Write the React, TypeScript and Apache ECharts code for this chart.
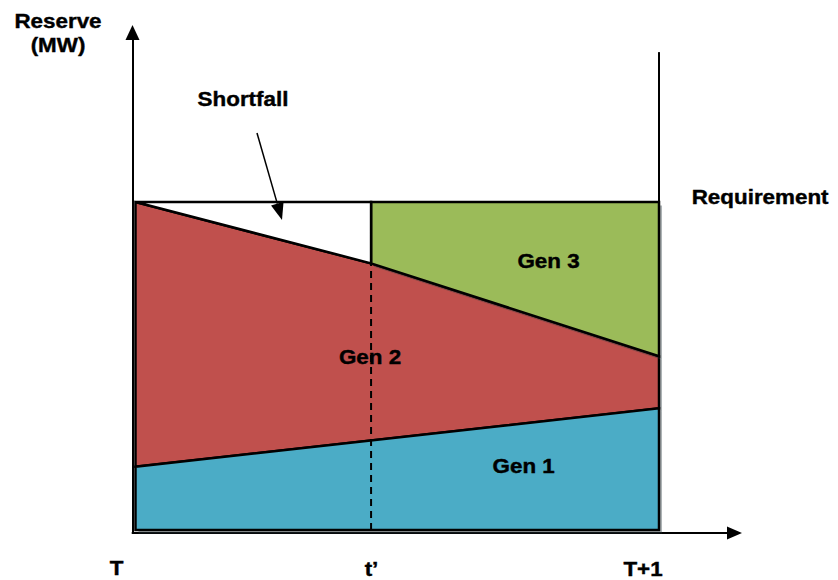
import React, { useEffect, useRef } from 'react';
import * as echarts from 'echarts';

// Time axis: T, t' and T+1 as fractions of the interval
const timeLabels = ['T', 't\u2019', 'T+1'];
const timePoints = [0, 0.45, 1];
// Reserve levels (MW, relative scale)
const gen1Top = [19.3, 37.1]; // top of Gen 1 at T and T+1
const gen2Top = [100, 81.3, 53.0]; // top of Gen 2 at T, t' and T+1
const requirement = 100;
const boundaryTop = 145.7; // height of the T+1 marker line
const genNames = ['Gen 1', 'Gen 2', 'Gen 3'];

const [tA, tB, tC] = timePoints;
const gen1Poly = [[tA, 0], [tA, gen1Top[0]], [tC, gen1Top[1]], [tC, 0]];
const gen2Poly = [[tA, gen1Top[0]], [tA, gen2Top[0]], [tB, gen2Top[1]], [tC, gen2Top[2]], [tC, gen1Top[1]]];
const gen3Poly = [[tB, requirement], [tC, requirement], [tC, gen2Top[2]], [tB, gen2Top[1]]];
const shortfallPoly = [[tA, requirement], [tB, requirement], [tB, gen2Top[1]]];

const FONT = '"Liberation Sans", Arial, sans-serif';

function polygonSeries(name: string, pts: number[][], fill: string, z: number, shadow: boolean) {
  return {
    type: 'custom',
    name,
    coordinateSystem: 'cartesian2d',
    data: pts,
    z,
    silent: true,
    renderItem: (params: any, api: any) => {
      if (params.dataIndex !== 0) return null;
      const points = pts.map((p) => api.coord(p));
      const children: any[] = [];
      if (shadow) {
        // soft drop shadow, offset down and to the right
        children.push({
          type: 'polygon',
          shape: { points: points.map((p: number[]) => [p[0] + 3, p[1] + 3.5]) },
          style: { fill: 'rgba(40,55,60,0.38)', stroke: 'none' },
        });
      }
      children.push({
        type: 'polygon',
        shape: { points },
        style: { fill, stroke: '#000', lineWidth: 2.5, lineJoin: 'miter' },
      });
      return { type: 'group', children };
    },
  };
}

function label(text: string, x: number, y: number, align: string = 'center') {
  return {
    type: 'text',
    x,
    y,
    z: 100,
    scaleX: 1.12,
    style: {
      text,
      fill: '#000',
      font: `bold 20px ${FONT}`,
      textAlign: align,
      textVerticalAlign: 'middle',
      stroke: '#000',
      lineWidth: 0.4,
    },
  };
}

export default function App() {
  const ref = useRef<HTMLDivElement>(null);

  useEffect(() => {
    if (!ref.current) return;
    const chart = echarts.init(ref.current, null, { renderer: 'svg' });

    // Shortfall pointer
    const from = [257, 133];
    const tip = [282, 220];
    const dx = tip[0] - from[0];
    const dy = tip[1] - from[1];
    const len = Math.hypot(dx, dy);
    const ux = dx / len;
    const uy = dy / len;
    const headLen = 17;
    const headHalf = 6.5;
    const base = [tip[0] - ux * headLen, tip[1] - uy * headLen];

    chart.setOption({
      animation: false,
      grid: { left: 132.5, right: 103.5, top: 32.5, bottom: 47, containLabel: false },
      xAxis: {
        type: 'value',
        min: -0.0057,
        max: 1.1442,
        axisLine: {
          show: true,
          onZero: false,
          symbol: ['none', 'triangle'],
          symbolSize: [13, 15],
          lineStyle: { color: '#000', width: 2 },
        },
        axisTick: { show: false },
        axisLabel: { show: false },
        splitLine: { show: false },
      },
      yAxis: {
        type: 'value',
        min: -0.915,
        max: 151.68,
        axisLine: {
          show: true,
          onZero: false,
          symbol: ['none', 'triangle'],
          symbolSize: [14, 15],
          lineStyle: { color: '#000', width: 2 },
        },
        axisTick: { show: false },
        axisLabel: { show: false },
        splitLine: { show: false },
      },
      series: [
        polygonSeries(genNames[1], gen2Poly, '#C0504D', 2, true),
        polygonSeries(genNames[0], gen1Poly, '#4BACC6', 3, true),
        polygonSeries(genNames[2], gen3Poly, '#9BBB59', 4, true),
        polygonSeries('Shortfall', shortfallPoly, '#FFFFFF', 5, false),
        {
          type: 'custom',
          name: 'markers',
          coordinateSystem: 'cartesian2d',
          data: [[tB, 0]],
          z: 6,
          silent: true,
          renderItem: (params: any, api: any) => {
            const d0 = api.coord([tB, 0]);
            const d1 = api.coord([tB, gen2Top[1]]);
            const b0 = api.coord([tC, requirement]);
            const b1 = api.coord([tC, boundaryTop]);
            return {
              type: 'group',
              children: [
                {
                  type: 'line',
                  shape: { x1: d0[0], y1: d0[1], x2: d1[0], y2: d1[1] },
                  style: { stroke: '#000', lineWidth: 2, lineDash: [7, 5] },
                },
                {
                  type: 'line',
                  shape: { x1: b0[0], y1: b0[1], x2: b1[0], y2: b1[1] },
                  style: { stroke: '#000', lineWidth: 2 },
                },
              ],
            };
          },
        },
      ],
      graphic: [
        label('Reserve', 58, 21),
        label('(MW)', 58, 45),
        label('Shortfall', 243, 99),
        label('Requirement', 691.7, 196.6, 'left'),
        label(genNames[2], 548.5, 261),
        label(genNames[1], 370, 356.5),
        label(genNames[0], 523.7, 465.5),
        label(timeLabels[0], 116.5, 567.5),
        label(timeLabels[1], 371.5, 568.5),
        label(timeLabels[2], 643, 569),
        {
          type: 'line',
          z: 100,
          shape: { x1: from[0], y1: from[1], x2: base[0], y2: base[1] },
          style: { stroke: '#000', lineWidth: 1.5 },
        },
        {
          type: 'polygon',
          z: 100,
          shape: {
            points: [
              tip,
              [base[0] + uy * headHalf, base[1] - ux * headHalf],
              [base[0] - uy * headHalf, base[1] + ux * headHalf],
            ],
          },
          style: { fill: '#000' },
        },
      ],
    });

    return () => chart.dispose();
  }, []);

  return (
    <div
      ref={ref}
      style={{ position: 'fixed', left: 0, top: 0, width: 838, height: 580, background: '#fff' }}
    />
  );
}
